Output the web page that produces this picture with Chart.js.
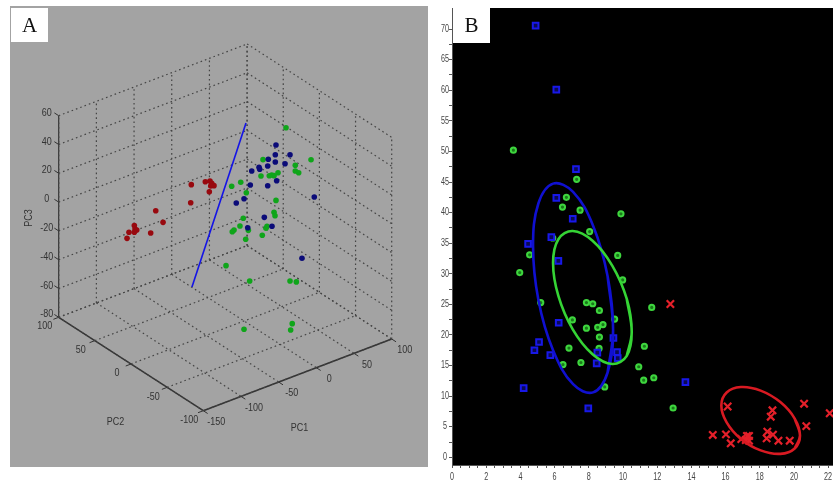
<!DOCTYPE html>
<html>
<head>
<meta charset="utf-8">
<script src="https://cdn.jsdelivr.net/npm/chart.js@4"></script>
<style>
  html, body { margin: 0; padding: 0; background: #fff; overflow: hidden; }
  canvas { position: absolute; filter: blur(0.55px); }
  #scoreCanvas { left: 10px; top: 6px; background: #a3a3a3; }
  #ellipseCanvas { left: 425px; top: 0; }
</style>
</head>
<body>
<canvas id="scoreCanvas" width="418" height="461"></canvas>
<canvas id="ellipseCanvas" width="408" height="485"></canvas>
<script>
// ---- panel A: PC scores as [PC1, PC2, PC3]. depth can't be read off a 2D view, so PC2 is a guess per group
var redScores = [
  [-31.6, 40, 8], [-13, 40, 6.3], [-6.8, 40, 5.6], [-4.5, 40, 3.6], [-1.5, 40, 1.3], [-5.8, 40, 1.9],
  [-7.7, 40, -1.7], [-32.4, 40, -4.4], [-78.8, 40, -0.7], [-69.1, 40, -10.7], [-85.5, 40, -14.8],
  [-107.2, 40, -5.4], [-106.3, 40, -7.9], [-104, 40, -9.1], [-107.2, 40, -10], [-114.3, 40, -8.6], [-116.9, 40, -12.3]
];
var greenScores = [
  [55.7, 0, 43.1], [25.2, 0, 27], [88.9, 0, 14.3], [68, 0, 14.6], [68, 0, 10.6], [72.5, 0, 8.5],
  [22.5, 0, 16.2], [33.5, 0, 14.2], [36.7, 0, 14.1], [39.8, 0, 13], [45.1, 0, 14], [-16.4, 0, 16.8],
  [-4.4, 0, 17.2], [3, 0, 8.5], [42.4, 0, -4.7], [39.8, 0, -12.5], [41.1, 0, -15.1], [-1, 0, -8.5],
  [-5.4, 0, -13], [-13.3, 0, -14.2], [-15.6, 0, -14.9], [5.7, 0, -18.2], [30.5, 0, -20.3], [29.1, 0, -21.4],
  [24.2, 0, -25.3], [2.2, 0, -23.7], [-23.9, 0, -36.8], [7.5, 0, -53.7], [61, 0, -64.4], [69.4, 0, -66.7],
  [-3.2, -70, -58.5], [-5.3, -70, -62.5], [-67.2, -70, -49.7]
];
var blueScores = [
  [42.4, 0, 33.8], [41.5, 0, 27.2], [61, 0, 23.3], [32.2, 0, 25.9], [41.5, 0, 22.1], [54.4, 0, 18.4],
  [31.4, 0, 21.4], [19.9, 0, 22.8], [20.8, 0, 21.2], [10.2, 0, 22.1], [43.3, 0, 8.8], [8.3, 0, 12.8],
  [31.4, 0, 7.7], [0, 0, 4.9], [-10.3, 0, 4], [93.2, 0, -12.5], [26.9, 0, -13.4], [37.1, 0, -21.6],
  [4.9, 0, -16.2], [76.9, 0, -51.8]
];
var separatorLine = [[2.6, 0, 57], [-69.1, 0, -42.7]];
var pc1Ticks = [-150, -100, -50, 0, 50, 100];
var pc2Ticks = [-100, -50, 0, 50, 100];
var pc3Ticks = [-80, -60, -40, -20, 0, 20, 40, 60];

// ---- panel B: concentration scatter {x, y}
var blueX = [4.89, 6.1, 7.25, 6.1, 7.06, 5.81, 4.45, 6.22, 6.24, 5.09, 4.82, 5.75, 4.19, 8.5, 8.46, 9.44, 9.65, 9.69, 7.97, 13.65];
var blueY = [70.56, 60.1, 47.1, 42.4, 39, 36, 34.9, 32.1, 22, 18.85, 17.5, 16.7, 11.3, 17.1, 15.35, 19.5, 17.2, 16.2, 8, 12.3];
var greenX = [3.59, 7.29, 6.69, 6.46, 7.49, 9.88, 8.05, 5.89, 9.69, 4.54, 3.96, 9.98, 5.19, 7.86, 8.23, 8.62, 9.51, 7.04, 8.83, 8.52, 7.86, 8.62, 8.6, 6.84, 7.54, 6.49, 8.93, 10.92, 11.68, 11.25, 11.21, 11.8, 12.93];
var greenY = [50.2, 45.45, 42.5, 40.9, 40.4, 39.8, 36.9, 35.85, 33, 33.1, 30.2, 29, 25.3, 25.3, 25.1, 24, 22.6, 22.45, 21.7, 21.25, 21.1, 19.65, 17.8, 17.85, 15.5, 15.15, 11.5, 14.8, 24.5, 18.15, 12.6, 13, 8.06];
var redX = [12.77, 16.12, 18.74, 18.64, 20.59, 22.09, 20.72, 15.25, 16.02, 16.3, 16.92, 17.25, 17.37, 17.18, 17.37, 18.44, 18.4, 18.77, 19.09, 19.75];
var redY = [25.06, 8.3, 7.68, 6.64, 8.76, 7.2, 5.1, 3.65, 3.75, 2.29, 2.99, 3.48, 3.48, 2.83, 2.71, 4.19, 3.1, 3.7, 2.71, 2.71];

// outlines
var blueEllipseX = [9.42, 9.1, 8.25, 7.08, 5.91, 5.05, 4.74, 5.05, 5.91, 7.08, 8.25, 9.1];
var blueEllipseY = [20.84, 13.86, 10.61, 11.95, 17.49, 25.76, 34.54, 41.49, 44.74, 43.4, 37.86, 29.59];
var greenEllipseX = [10.51, 10.22, 9.37, 8.22, 7.06, 6.22, 5.91, 6.22, 7.06, 8.22, 9.37, 10.22];
var greenEllipseY = [20.48, 16.59, 15.25, 16.84, 20.91, 26.37, 31.76, 35.65, 37, 35.41, 31.34, 25.88];
var redEllipseX = [20.35, 20.04, 19.2, 18.05, 16.89, 16.06, 15.75, 16.06, 16.89, 18.05, 19.2, 20.04];
var redEllipseY = [3.56, 1.44, 0.56, 1.13, 3.01, 5.71, 8.47, 10.59, 11.48, 10.9, 9.02, 6.33];

var xTicksB = [];
for (var i = 0; i <= 44; i++) xTicksB.push(i / 2);
var yTicksB = [];
for (var j = 0; j <= 28; j++) yTicksB.push(j * 2.5);

// MATLAB-like view of the 3D box, projected on to a flat x/y plane
function project(p) {
  return {
    x: 58.7 + (p[0] + 150) * 0.7536 + (100 - p[1]) * 0.723,
    y: 317.3 - (p[0] + 150) * 0.2868 + (100 - p[1]) * 0.467 - (p[2] + 80) * 1.44
  };
}

function edge(a, b, color, width, dash) {
  return {
    data: [project(a), project(b)],
    showLine: true,
    pointRadius: 0,
    borderColor: color,
    borderWidth: width,
    borderDash: dash || []
  };
}

function scores(list, color) {
  return {
    data: list.map(project),
    pointRadius: 2.8,
    pointBackgroundColor: color,
    pointBorderWidth: 0
  };
}

function letterBox(chart, left, top, w, h, letter) {
  var c = chart.ctx;
  c.save();
  c.fillStyle = "#fff";
  c.fillRect(left, top, w, h);
  c.fillStyle = "#111";
  c.font = "21px 'Liberation Serif'";
  c.textAlign = "center";
  c.textBaseline = "middle";
  c.fillText(letter, left + w / 2, top + h / 2 + 1);
  c.restore();
}

// the source text is squeezed sideways, so labels go through a narrowed transform
function narrowText(c, text, px, py, rot, squeeze) {
  c.save();
  c.translate(px, py);
  if (rot) c.rotate(rot);
  c.scale(squeeze, 1);
  c.fillText(text, 0, 0);
  c.restore();
}

var gridColor = "#454545";
var dots = [1.6, 3];
var datasetsA = [
  scores(redScores, "#98090f"),
  scores(blueScores, "#0b0b78"),
  scores(greenScores, "#0fa51a"),
  edge(separatorLine[0], separatorLine[1], "#1414e6", 1.6)
];

pc3Ticks.forEach(function (z) {
  datasetsA.push(edge([-150, 100, z], [100, 100, z], gridColor, 1.2, dots));
  datasetsA.push(edge([100, 100, z], [100, -100, z], gridColor, 1.2, dots));
});
pc1Ticks.forEach(function (x) {
  datasetsA.push(edge([x, 100, -80], [x, 100, 60], gridColor, 1.2, dots));
  datasetsA.push(edge([x, 100, -80], [x, -100, -80], gridColor, 1.2, dots));
});
pc2Ticks.forEach(function (y) {
  datasetsA.push(edge([100, y, -80], [100, y, 60], gridColor, 1.2, dots));
  datasetsA.push(edge([-150, y, -80], [100, y, -80], gridColor, 1.2, dots));
});
// solid axes
datasetsA.push(edge([-150, 100, -80], [-150, 100, 60], "#333", 1.2));
datasetsA.push(edge([-150, 100, -80], [-150, -100, -80], "#333", 1.5));
datasetsA.push(edge([-150, -100, -80], [100, -100, -80], "#333", 1.5));
// tick marks
pc3Ticks.forEach(function (z) {
  datasetsA.push(edge([-150, 100, z], [-150, 106, z], "#333", 1));
});
pc2Ticks.forEach(function (y) {
  datasetsA.push(edge([-150, y, -80], [-157, y, -80], "#333", 1));
});
pc1Ticks.forEach(function (x) {
  datasetsA.push(edge([x, -100, -80], [x, -106, -80], "#333", 1));
});

var labelsA = {
  id: "labelsA",
  afterDraw: function (chart) {
    var c = chart.ctx, sx = chart.scales.x, sy = chart.scales.y;
    function put(text, vx, vy, rot) {
      narrowText(c, text, sx.getPixelForValue(vx), sy.getPixelForValue(vy), rot, 0.78);
    }
    c.save();
    c.fillStyle = "#333";
    c.font = "11.5px 'Liberation Sans'";
    c.textAlign = "center";
    c.textBaseline = "middle";
    pc3Ticks.forEach(function (z) {
      var p = project([-150, 100, z]);
      put(String(z), p.x - 12, p.y - 3);
    });
    pc2Ticks.forEach(function (y) {
      var p = project([-150, y, -80]);
      put(String(y), p.x - 14, p.y + 9);
    });
    pc1Ticks.forEach(function (x) {
      var p = project([x, -100, -80]);
      put(String(x), p.x + 13, p.y + 11);
    });
    put("PC1", 299.5, 428);
    put("PC2", 115.5, 422);
    put("PC3", 29, 218, -Math.PI / 2);
    c.restore();
    letterBox(chart, 1, 2, 37, 34, "A");
  }
};

new Chart(document.getElementById("scoreCanvas"), {
  type: "scatter",
  data: { datasets: datasetsA },
  plugins: [labelsA],
  options: {
    responsive: false,
    animation: false,
    layout: { padding: 0, autoPadding: false },
    plugins: { legend: { display: false }, tooltip: { enabled: false } },
    scales: {
      x: { type: "linear", display: false, min: 10, max: 428 },
      y: { type: "linear", display: false, min: 6, max: 467, reverse: true }
    }
  }
});

function pairs(xs, ys) {
  return xs.map(function (v, i) { return { x: v, y: ys[i] }; });
}

// wrap past both ends so the spline has no corner where the outline closes
function loop(xs, ys, color) {
  var pts = pairs(xs, ys);
  return {
    data: [pts[pts.length - 1]].concat(pts, [pts[0], pts[1]]),
    showLine: true,
    tension: 0.38,
    pointRadius: 0,
    borderColor: color,
    borderWidth: 2.6
  };
}

var panelBlack = {
  id: "panelBlack",
  beforeDraw: function (chart) {
    var a = chart.chartArea, c = chart.ctx;
    c.save();
    c.fillStyle = "#000";
    c.fillRect(a.left, a.top, a.right - a.left, a.bottom - a.top);
    c.restore();
  },
  afterDraw: function (chart) {
    var c = chart.ctx, sx = chart.scales.x, sy = chart.scales.y;
    c.save();
    c.fillStyle = "#444";
    c.font = "10px 'Liberation Sans'";
    c.textBaseline = "middle";
    c.textAlign = "center";
    xTicksB.forEach(function (v) {
      if (v % 2 === 0) narrowText(c, String(v), Math.min(sx.getPixelForValue(v), 403), 477, 0, 0.72);
    });
    yTicksB.forEach(function (v) {
      if (v % 5 === 0) narrowText(c, String(v), sy.right - 7, sy.getPixelForValue(v), 0, 0.72);
    });
    c.restore();
    letterBox(chart, chart.chartArea.left + 1, chart.chartArea.top, 37, 35, "B");
  }
};

new Chart(document.getElementById("ellipseCanvas"), {
  type: "scatter",
  data: {
    datasets: [
      loop(redEllipseX, redEllipseY, "#d81a22"),
      loop(greenEllipseX, greenEllipseY, "#35d435"),
      loop(blueEllipseX, blueEllipseY, "#1010d0"),
      {
        data: pairs(redX, redY),
        pointStyle: "crossRot",
        pointRadius: 5.2,
        pointBorderColor: "#e5202a",
        pointBorderWidth: 2.2
      },
      {
        data: pairs(blueX, blueY),
        pointStyle: "rect",
        pointRadius: 4,
        pointBackgroundColor: "#0a0a55",
        pointBorderColor: "#1818e8",
        pointBorderWidth: 2
      },
      {
        data: pairs(greenX, greenY),
        pointStyle: "circle",
        pointRadius: 2.6,
        pointBackgroundColor: "#1a7a1a",
        pointBorderColor: "#3ed63e",
        pointBorderWidth: 2
      }
    ]
  },
  plugins: [panelBlack],
  options: {
    responsive: false,
    animation: false,
    layout: { padding: { top: 8, right: 0, left: 0, bottom: 0 }, autoPadding: false },
    plugins: { legend: { display: false }, tooltip: { enabled: false } },
    scales: {
      x: {
        type: "linear",
        min: 0,
        max: 22.28,
        afterBuildTicks: function (axis) {
          axis.ticks = xTicksB.map(function (v) { return { value: v }; });
        },
        afterFit: function (axis) { axis.height = 20; },
        grid: { drawOnChartArea: false, tickLength: 3, color: "#555" },
        border: { color: "#555" },
        ticks: { display: false, autoSkip: false }
      },
      y: {
        type: "linear",
        min: -1.26,
        max: 73.45,
        afterBuildTicks: function (axis) {
          axis.ticks = yTicksB.map(function (v) { return { value: v }; });
        },
        afterFit: function (axis) { axis.width = 27; },
        grid: { drawOnChartArea: false, tickLength: 3, color: "#555" },
        border: { color: "#555" },
        ticks: { display: false, autoSkip: false }
      }
    }
  }
});
</script>
</body>
</html>
